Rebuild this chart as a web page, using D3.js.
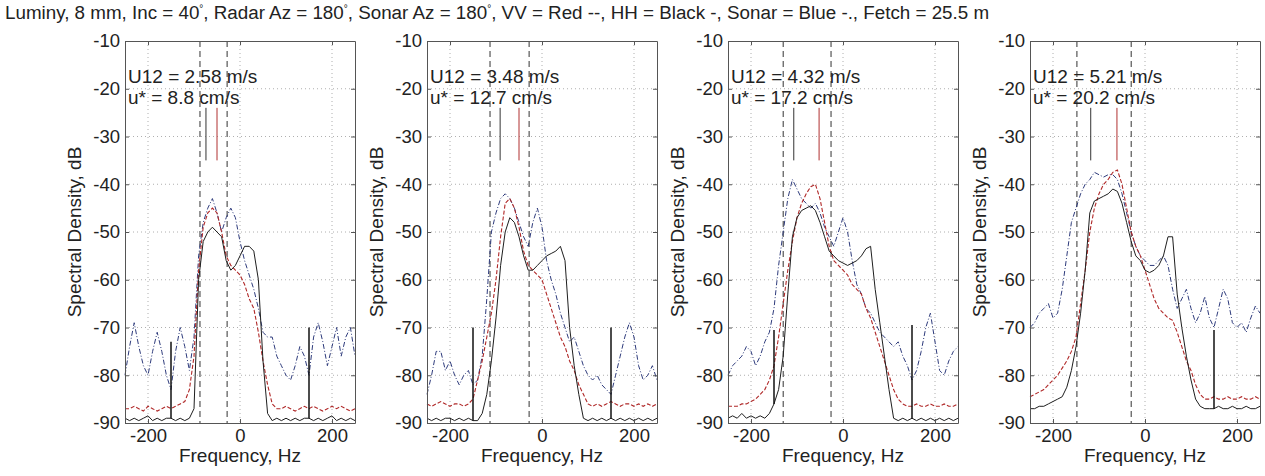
<!DOCTYPE html>
<meta charset="utf-8" />
<script src="https://cdn.jsdelivr.net/npm/d3@7"></script>
<html>
<head>
<style>
  body { margin: 0; background: #fff; }
  svg text { font-family: "Liberation Sans", Arial, sans-serif; fill: #222; }
  .grid line { stroke: #9a9a9a; stroke-dasharray: 1,3; stroke-width: 0.8; }
  .axis path, .axis line { stroke: #555; }
  .axis text { font-size: 18.5px; fill: #222; font-family: "Liberation Sans", Arial, sans-serif; }
  .lbl { font-size: 19px; }
</style>
</head>
<body>
<script>
// frequency axis of every spectrum, Hz
const freq = [-250,-240,-230,-220,-210,-200,-190,-180,-170,-160,-150,-140,-130,-120,-110,-100,-90,-80,-70,-60,
              -50,-40,-30,-20,-10,0,10,20,30,40,50,60,70,80,90,100,110,120,130,140,
              150,160,170,180,190,200,210,220,230,240,250];

// panel labels
const u12 = ["2.58", "3.48", "4.32", "5.21"];
const ustar = ["8.8", "12.7", "17.2", "20.2"];

// HH (black solid), dB
const hh1 = [-89,-89.5,-89,-89.5,-89,-88.5,-89.5,-89,-89.5,-89,-89,-89.5,-89,-89.5,-89,-87,-60,-52,-50,-49,
             -50,-51,-56,-58,-57,-55,-53,-53,-54,-60,-77,-88,-89.5,-89,-89.5,-89,-89.5,-89,-89.5,-89,
             -89,-89.5,-89,-89.5,-89,-88.5,-89.5,-89,-89.5,-89,-89.5];
const hh2 = [-89,-89.5,-89,-89.5,-89,-89,-89.5,-89,-89.5,-89,-89.5,-89.5,-88,-84,-77,-68,-57,-50,-47,-48,
             -51,-55,-58,-58,-57,-56,-55,-54.5,-54,-53,-56,-70,-78,-84,-89,-89.5,-89,-89.5,-89,-89.5,
             -89,-89.5,-89,-89.5,-89,-89.5,-89,-89.5,-89,-89.5,-89];
const hh3 = [-89,-88.5,-89,-88,-89,-88.5,-89,-88.5,-89,-88,-86,-83,-76,-63,-51,-47,-45.5,-45,-44.5,-45.5,
             -48,-51,-54,-55,-56,-56.5,-57,-56.5,-56,-55,-53.5,-53,-62,-69,-76,-83,-89,-89.5,-89,-89.5,
             -89,-89.5,-89,-89.5,-89,-89.5,-89,-89.5,-89,-89.5,-89];
const hh4 = [-87,-87,-86.5,-86.5,-86,-85.5,-85,-84.5,-82.5,-79,-74,-67,-58,-46,-43.5,-43,-42.5,-42,-41,-41.5,
             -44,-48,-52,-55,-56,-58,-58.5,-58,-57,-55,-51,-51,-63,-70,-76,-81,-85,-86.5,-87,-87,
             -87,-86.5,-87,-87,-86.5,-87,-87,-86.5,-87,-87,-86.5];

// VV (red dashed), dB
const vv1 = [-87,-87,-86.5,-87,-87.5,-86.5,-87,-87.5,-87,-86.5,-87,-86.5,-86,-85.5,-83,-76,-58,-49,-46,-45,
             -46,-50,-55,-57,-58,-59,-61,-64,-66,-71,-77,-82,-86,-87,-87,-86.5,-87,-87.5,-87,-86.5,
             -87,-86.5,-87,-87.5,-87,-86.5,-87,-86.5,-87,-87.5,-87];
const vv2 = [-86,-86.5,-86,-85.5,-86,-86.5,-86,-86,-86.5,-86,-85,-81,-77,-72,-67,-60,-51,-44,-43,-45,
             -49,-54,-57,-58,-59,-60,-63,-66,-69,-72,-74,-77,-79,-82,-84,-86,-86.5,-86,-86.5,-86,
             -85.5,-86,-86.5,-86,-86,-86.5,-86,-86.5,-86,-86.5,-86];
const vv3 = [-86.5,-86.5,-86.5,-86,-86,-85.5,-85,-84,-83,-81,-78,-72,-65,-58,-52,-47,-44,-42,-40.5,-40,
             -43,-48,-53,-56,-57,-58,-59,-61,-62,-63,-66,-68,-71,-74,-77,-80,-83,-85,-86,-86.5,
             -86.5,-86,-86.5,-86.5,-86,-86.5,-86.5,-86,-86.5,-86.5,-86];
const vv4 = [-84.5,-84,-83.5,-83,-82,-81,-80,-78.5,-77,-75,-72,-65,-58,-50,-45,-42,-40,-39,-37.5,-37,
             -40,-45,-50,-53,-55,-58,-61,-64,-66,-67,-68,-68.5,-71,-74,-77,-79,-82,-84,-85,-85,
             -84.5,-85,-85,-84.5,-85,-85,-84.5,-85,-85,-84.5,-85];

// Sonar (blue dash-dot), dB
const so1 = [-80,-74,-69,-74,-78,-80,-75,-71,-75,-80,-83,-75,-70,-74,-79,-72,-55,-48,-45,-43,
             -46,-50,-47,-45,-47,-52,-56,-59,-62,-66,-71,-72,-72,-76,-78,-80,-81,-78,-74,-76,
             -80,-72,-69,-73,-78,-74,-70,-76,-72,-70,-76];
const so2 = [-84,-80,-75,-75,-79,-77,-80,-82,-80,-79,-82,-81,-76,-64,-50,-46,-43,-42,-43,-45,
             -48,-51,-53,-48,-45,-49,-56,-60,-63,-67,-70,-73,-72,-75,-78,-80,-81,-80,-82,-83,
             -84,-80,-76,-72,-69,-72,-78,-81,-80,-78,-81];
const so3 = [-80,-78,-77,-76,-74,-75,-78,-76,-73,-71,-66,-57,-50,-43,-39,-41,-43,-44,-45,-44,
             -46,-49,-51,-53,-50,-47,-50,-56,-61,-63,-66,-67,-69,-71,-72,-73,-74,-73,-76,-78,
             -81,-79,-75,-70,-67,-73,-79,-80,-77,-75,-74];
const so4 = [-70,-69,-67,-66,-65,-68,-67,-62,-55,-48,-45,-42,-40,-39,-37.5,-38,-38.5,-38,-38,-39,
             -42,-46,-50,-53,-55,-56,-57,-57,-56,-55,-57,-62,-66,-64,-62,-66,-69,-67,-63.5,-68,
             -70,-66,-62,-64,-69,-70,-69,-71,-68,-65.5,-67];

// line spikes in HH at +-150 Hz (top value, dB; null = none)
const spikeFreq = [-150, 150];
const spikeTop = [[-73, -70], [-70, -70], [-70.5, -69.5], [null, -70.5]];

// short markers (Hz) and dashed window limits (Hz)
const markHH = [-74, -91, -107, -118];
const markVV = [-50, -50, -52, -61];
const windowLo = [-87, -113, -130, -148];
const windowHi = [-28, -28, -26, -30];

const xTicks = [-200, 0, 200];
const yTicks = [-90, -80, -70, -60, -50, -40, -30, -20, -10];

const hhAll = [hh1, hh2, hh3, hh4];
const vvAll = [vv1, vv2, vv3, vv4];
const soAll = [so1, so2, so3, so4];

var width = 1265, height = 476;
var pw = 230, plotTop = 41, ph = 382;
var lefts = [125, 427, 728, 1030];

var svg = d3.select("body").append("svg")
    .attr("width", width)
    .attr("height", height);

// title (degree marks raised like MATLAB ^o)
var title = svg.append("text")
    .attr("x", 5)
    .attr("y", 19)
    .style("font-size", "18.8px");
var parts = ["Luminy, 8 mm, Inc = 40", "°", ", Radar Az = 180", "°", ", Sonar Az = 180", "°",
             ", VV = Red --, HH = Black -, Sonar = Blue -., Fetch = 25.5 m"];
var raised = false;
parts.forEach(function (p) {
    var t = title.append("tspan").text(p);
    if (p === "°") {
        t.attr("dy", -7).style("font-size", "10px");
        raised = true;
    } else if (raised) {
        t.attr("dy", 7);
        raised = false;
    }
});

var x = d3.scaleLinear().domain([-250, 250]).range([0, pw]);
var y = d3.scaleLinear().domain([-90, -10]).range([ph, 0]);
var plain = function (d) { return String(d); };

var line = d3.line()
    .x(function (d, i) { return x(freq[i]); })
    .y(function (d) { return y(d); });

lefts.forEach(function (left, p) {
    var g = svg.append("g").attr("transform", "translate(" + left + "," + plotTop + ")");

    // grid
    var grid = g.append("g").attr("class", "grid");
    grid.selectAll(".gx").data(xTicks).enter().append("line")
        .attr("x1", function (d) { return x(d); }).attr("x2", function (d) { return x(d); })
        .attr("y1", 0).attr("y2", ph);
    grid.selectAll(".gy").data(yTicks.slice(1, -1)).enter().append("line")
        .attr("x1", 0).attr("x2", pw)
        .attr("y1", function (d) { return y(d); }).attr("y2", function (d) { return y(d); });

    // dashed window lines
    g.selectAll(".win").data([windowLo[p], windowHi[p]]).enter().append("line")
        .attr("x1", function (d) { return x(d); }).attr("x2", function (d) { return x(d); })
        .attr("y1", 0).attr("y2", ph)
        .attr("stroke", "#333").attr("stroke-width", 1).attr("stroke-dasharray", "6,4");

    // short markers
    g.append("line")
        .attr("x1", x(markHH[p])).attr("x2", x(markHH[p]))
        .attr("y1", y(-24)).attr("y2", y(-35))
        .attr("stroke", "#333").attr("stroke-width", 1);
    g.append("line")
        .attr("x1", x(markVV[p])).attr("x2", x(markVV[p]))
        .attr("y1", y(-24)).attr("y2", y(-35))
        .attr("stroke", "#b03030").attr("stroke-width", 1);

    // curves
    g.append("path").datum(soAll[p]).attr("d", line)
        .attr("fill", "none").attr("stroke", "#2e3b7c").attr("stroke-width", 1)
        .attr("stroke-dasharray", "5,2,1,2");
    g.append("path").datum(vvAll[p]).attr("d", line)
        .attr("fill", "none").attr("stroke", "#b02828").attr("stroke-width", 1.1)
        .attr("stroke-dasharray", "4,2");
    g.append("path").datum(hhAll[p]).attr("d", line)
        .attr("fill", "none").attr("stroke", "#1e1e1e").attr("stroke-width", 1);

    // HH line spikes
    spikeFreq.forEach(function (f, k) {
        var t = spikeTop[p][k];
        if (t === null) return;
        var base = hhAll[p][freq.indexOf(f)];
        g.append("line")
            .attr("x1", x(f)).attr("x2", x(f))
            .attr("y1", y(base)).attr("y2", y(t))
            .attr("stroke", "#111").attr("stroke-width", 1.5);
    });

    // axes (MATLAB style, ticks inward on all sides)
    g.append("g").attr("class", "axis")
        .attr("transform", "translate(0," + ph + ")")
        .call(d3.axisBottom(x).tickValues(xTicks).tickSizeInner(-4).tickSizeOuter(0).tickPadding(6).tickFormat(plain));
    g.append("g").attr("class", "axis")
        .call(d3.axisTop(x).tickValues(xTicks).tickSizeInner(-4).tickSizeOuter(0).tickFormat(""));
    g.append("g").attr("class", "axis")
        .call(d3.axisLeft(y).tickValues(yTicks).tickSizeInner(-4).tickSizeOuter(0).tickPadding(5).tickFormat(plain));
    g.append("g").attr("class", "axis")
        .attr("transform", "translate(" + pw + ",0)")
        .call(d3.axisRight(y).tickValues(yTicks).tickSizeInner(-4).tickSizeOuter(0).tickFormat(""));

    // labels
    g.append("text").attr("class", "lbl")
        .attr("x", pw / 2).attr("y", 421)
        .attr("text-anchor", "middle")
        .text("Frequency, Hz");
    g.append("text").attr("class", "lbl")
        .attr("transform", "translate(-44," + ph / 2 + ") rotate(-90)")
        .attr("text-anchor", "middle")
        .text("Spectral Density, dB");

    g.append("text").attr("class", "lbl")
        .attr("x", 3).attr("y", 42)
        .text("U12 = " + u12[p] + " m/s");
    g.append("text").attr("class", "lbl")
        .attr("x", 3).attr("y", 63)
        .text("u* = " + ustar[p] + " cm/s");
});
</script>
</body>
</html>
